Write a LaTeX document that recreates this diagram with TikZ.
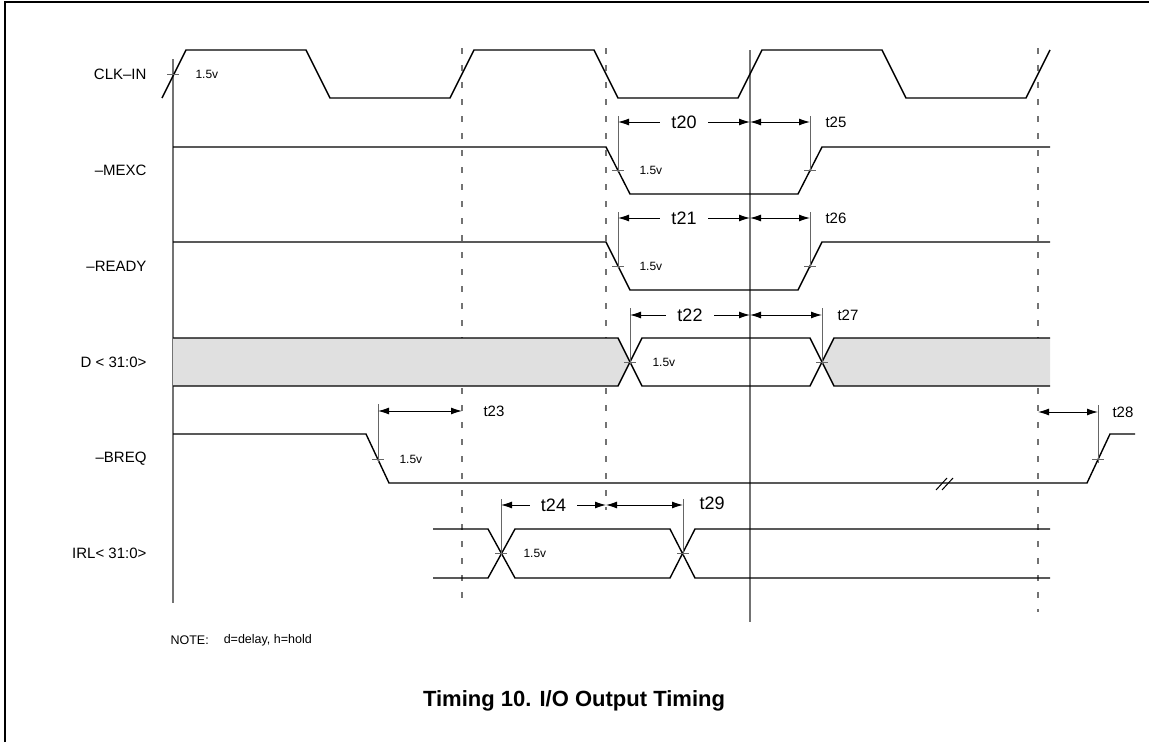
\documentclass[tikz,border=0pt]{standalone}
\usepackage{fontspec}
\setmainfont{Liberation Sans}
\usetikzlibrary{arrows.meta, positioning}

\begin{document}
\begin{tikzpicture}[
  x=1pt, y=-1pt,
  sig/.style={line width=1.4pt},
  guide/.style={line width=1.2pt, black!55},
  dashguide/.style={guide, dash pattern=on 6pt off 11pt},
  tick/.style={line width=1pt, black!60},
  dim/.style={{Latex[length=11pt,width=7pt]}-{Latex[length=11pt,width=7pt]}, line width=1pt},
  signame/.style={anchor=east, font=\fontsize{15}{18}\selectfont},
  volt/.style={anchor=west, font=\fontsize{12}{14}\selectfont},
  tbig/.style={fill=white, inner xsep=11pt, font=\fontsize{18}{21}\selectfont},
  tsmall/.style={anchor=west, font=\fontsize{15}{18}\selectfont}]

  \useasboundingbox (0,0) rectangle (1149,742);
  \draw[line width=1.4pt] (5,742) -- (5,2) -- (1149,2);

  % reference lines
  \draw[guide] (173,59) -- (173,603);
  \draw[guide] (750,50) -- (750,622);
  \draw[dashguide] (462,48) -- (462,605);
  \draw[dashguide] (606,48) -- (606,510);
  \draw[dashguide] (1038,48) -- (1038,612);

  % D bus shading
  \fill[black!12] (173,338) -- (618,338) -- (630,362) -- (618,386) -- (173,386) -- cycle;
  \fill[black!12] (822,362) -- (834,338) -- (1050,338) -- (1050,386) -- (834,386) -- cycle;

  % signals
  \draw[sig] (162,98) \foreach \k in {0,1,2} {-- ++(24,-48) -- ++(120,0) -- ++(24,48) -- ++(120,0)} -- ++(24,-48);
  \draw[sig] (173,147) -- (606,147) -- (630,194) -- (798,194) -- (822,147) -- (1050,147);
  \draw[sig] (173,242) -- (606,242) -- (630,290) -- (798,290) -- (822,242) -- (1050,242);
  \draw[sig] (173,338) -- (618,338) -- (642,386) -- (810,386) -- (834,338) -- (1050,338);
  \draw[sig] (173,386) -- (618,386) -- (642,338) -- (810,338) -- (834,386) -- (1050,386);
  \draw[sig] (173,434) -- (366,434) -- (389,483) -- (1087,483) -- (1110,434) -- (1135,434);
  \draw[sig] (433,529) -- (488,529) -- (515,578) -- (670,578) -- (695,529) -- (1050,529);
  \draw[sig] (433,578) -- (488,578) -- (515,529) -- (670,529) -- (695,578) -- (1050,578);
  % break mark
  \draw[line width=1pt] (936,490) -- (947,478) (942,490) -- (953,478);

  % signal names
  \node[signame] (clk)   at (150,74)  {CLK--IN};
  \node[signame] (mexc)  at (150,170) {--MEXC};
  \node[signame] (ready) at (150,266) {--READY};
  \node[signame] (data)  at (150,362) {D < 31:0>};
  \node[signame] (breq)  at (150,459) {--BREQ};
  \node[signame] (irl)   at (150,553) {IRL< 31:0>};

  % 1.5v crossings
  \foreach \x/\y in {173/74, 618/170, 810/170, 618/266, 810/266, 630/362, 822/362,
                     378/459, 1098/459, 501/553, 683/553}
    \draw[tick] (\x-6,\y) -- (\x+6,\y);
  \foreach \x/\ya/\yb in {618/116/172, 810/116/172, 618/212/268, 810/212/268,
                          630/308/364, 822/308/364, 378/404/463, 1098/405/463,
                          501/499/555, 683/499/555}
    \draw[tick] (\x,\ya) -- (\x,\yb);
  \node[volt] (v1) at (192,74)  {1.5v};
  \node[volt] (v2) at (636,170) {1.5v};
  \node[volt] (v3) at (636,266) {1.5v};
  \node[volt] (v4) at (649,362) {1.5v};
  \node[volt] (v5) at (396,459) {1.5v};
  \node[volt] (v6) at (520,553) {1.5v};

  % timing marks
  \coordinate (a20) at (618,122); \coordinate (b20) at (750,122); \coordinate (c20) at (810,122);
  \coordinate (a21) at (618,218); \coordinate (b21) at (750,218); \coordinate (c21) at (810,218);
  \coordinate (a22) at (630,315); \coordinate (b22) at (750,315); \coordinate (c22) at (822,315);
  \coordinate (a23) at (378,411); \coordinate (b23) at (462,411);
  \coordinate (a24) at (501,505); \coordinate (b24) at (606,505); \coordinate (c24) at (683,505);
  \coordinate (a28) at (1038,412); \coordinate (b28) at (1098,412);

  \draw[dim] (a20) -- node[tbig] (t20) {t20} (b20);
  \draw[dim] (b20) -- (c20);
  \draw[dim] (a21) -- node[tbig] (t21) {t21} (b21);
  \draw[dim] (b21) -- (c21);
  \draw[dim] (a22) -- node[tbig] (t22) {t22} (b22);
  \draw[dim] (b22) -- (c22);
  \draw[dim] (a23) -- (b23);
  \draw[dim] (a24) -- node[tbig] (t24) {t24} (b24);
  \draw[dim] (b24) -- (c24);
  \draw[dim] (a28) -- (b28);

  \node[tsmall] (t25) at (822,122) {t25};
  \node[tsmall] (t26) at (822,218) {t26};
  \node[tsmall] (t27) at (834,315) {t27};
  \node[tsmall] (t23) at (480,411) {t23};
  \node[tsmall, font=\fontsize{18}{21}\selectfont] (t29) at (696,503) {t29};
  \node[tsmall] (t28) at (1109,412) {t28};

  % note and caption
  \node[anchor=west, font=\fontsize{12.5}{15}\selectfont] (note) at (167,640) {NOTE:};
  \node[right=8pt of note, font=\fontsize{12.5}{15}\selectfont] (notetext) {d=delay, h=hold};
  \node[font=\bfseries\fontsize{22}{26}\selectfont] (caption) at (574,701) {Timing 10. I/O Output Timing};
\end{tikzpicture}
\end{document}
